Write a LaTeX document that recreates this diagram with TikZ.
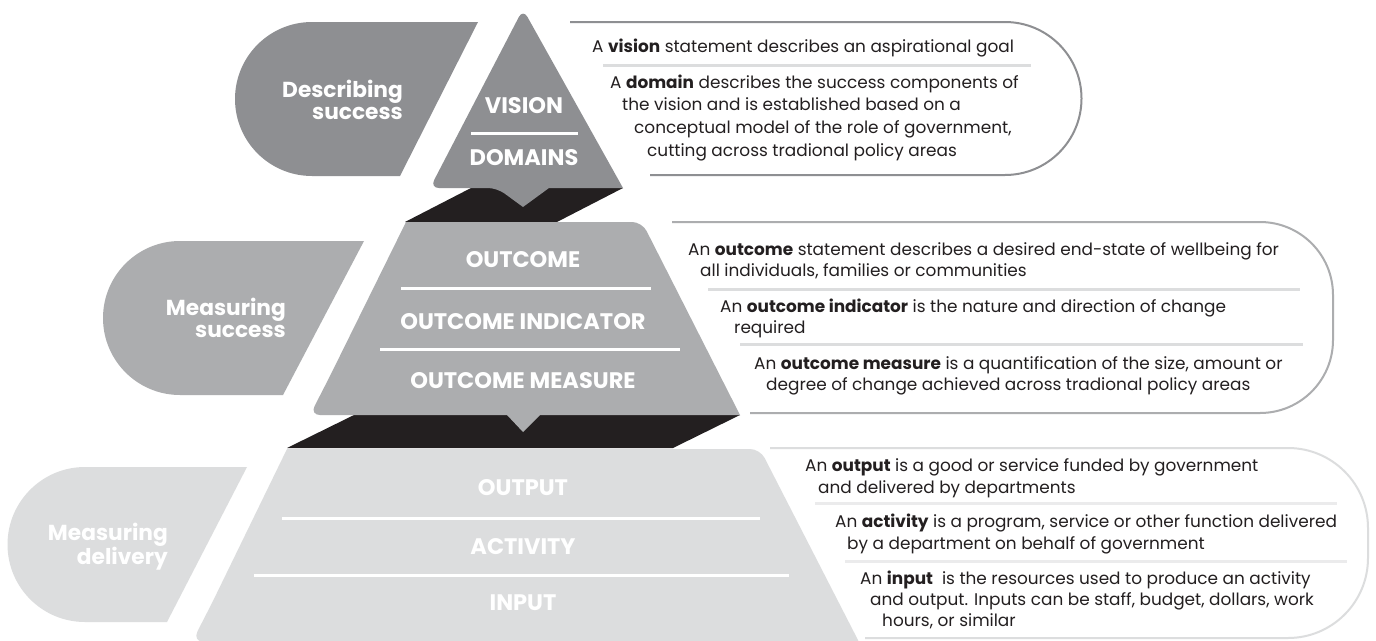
\documentclass[tikz,border=0pt]{standalone}
\usepackage{fontspec}
\setmainfont{Poppins}
\definecolor{tierdark}{HTML}{8E8F92}
\definecolor{tiermid}{HTML}{ACADAF}
\definecolor{tierlight}{HTML}{DCDDDE}
\definecolor{band}{HTML}{231F20}
\definecolor{ink}{HTML}{231F20}
\definecolor{sepfaint}{HTML}{EBEBEC}
\begin{document}
\begin{tikzpicture}[x=1pt,y=-1pt,
  tierlabel/.style={text=white, inner sep=0pt, font=\fontsize{22.5}{24}\selectfont\bfseries},
  tablabel/.style={text=white, inner sep=0pt, align=right, anchor=east, font=\fontsize{21.7}{22}\selectfont\bfseries},
  body/.style={text=ink, inner sep=0pt, anchor=base west, font=\fontsize{16.9}{19}\selectfont},
  whiterule/.style={white, line width=3pt},
  boxline/.style={line width=2pt},
  sepline/.style={line width=3pt}]
\useasboundingbox (0,0) rectangle (1376,640);
\fill[white] (0,0) rectangle (1376,640);

% ---- left tabs ----
\fill[tierdark] (312,176) arc[start angle=90,end angle=270,radius=77] -- (478,22) -- (400,176) -- cycle;
\fill[tiermid] (180,395) arc[start angle=90,end angle=270,radius=77] -- (364,241) -- (283,395) -- cycle;
\fill[tierlight] (85,622) arc[start angle=90,end angle=270,radius=77.5] -- (247,467) -- (167,622) -- cycle;

\node[tablabel] (tabdescribe) at (403,100) {Describing\\success};
\node[tablabel] (tabmeasure) at (286,318) {Measuring\\success};
\node[tablabel] (tabdelivery) at (168,547) {Measuring\\delivery};

% ---- dark bands under each tier ----
\fill[band] (405,222) -- (557,222) -- (623,188) -- (471,188) -- cycle;
\fill[band] (287,448) -- (673,448) -- (740,415) -- (354,415) -- cycle;

% ---- top tier ----
\fill[tierdark] (623,188) [rounded corners=9pt] -- (523,9) -- (430,188) -- (497,188) [sharp corners] -- (523,207) -- (549,188) -- cycle;
\node[tierlabel] (vision) at (524,106) {VISION};
\draw[whiterule] (471,133) -- (578,133);
\node[tierlabel] (domains) at (524,158) {DOMAINS};

% ---- middle tier ----
\fill[tiermid] (406,222) [rounded corners=10pt] -- (642,222) [sharp corners] -- (740,415) -- (540,415) -- (523,432) -- (507,415) [rounded corners=10pt] -- (310,415) -- (330,376) [sharp corners] -- cycle;
\node[tierlabel] (outcome) at (523,260) {OUTCOME};
\draw[whiterule] (401,288) -- (651,288);
\node[tierlabel] (indicator) at (523,322) {OUTCOME INDICATOR};
\draw[whiterule] (380,349) -- (680,349);
\node[tierlabel] (measure) at (523,381) {OUTCOME MEASURE};

% ---- bottom tier ----
\fill[tierlight] (287,449) [rounded corners=10pt] -- (760,449) [sharp corners] -- (859,642) -- (300,642) [rounded corners=12pt] -- (192,642) -- (212,603) [sharp corners] -- cycle;
\node[tierlabel] (output) at (523,488) {OUTPUT};
\draw[whiterule] (282,518) -- (760,518);
\node[tierlabel] (activity) at (523,547) {ACTIVITY};
\draw[whiterule] (254,575) -- (789,575);
\node[tierlabel] (input) at (523,603) {INPUT};

% ---- description panels ----
\draw[boxline, tierdark] (570,22) -- (1005,22) arc[start angle=-90,end angle=90,radius=76.5] -- (650,175);
\draw[sepline, tierlight] (603,65) -- (1031,65);
\node[body] (d1) at (592,52) {A \textbf{vision} statement describes an aspirational goal};
\node[body] (d2) at (610,88) {A \textbf{domain} describes the success components of};
\node[body] (d3) at (622,110) {the vision and is established based on a};
\node[body] (d4) at (634,133) {conceptual model of the role of government,};
\node[body] (d5) at (647,156) {cutting across tradional policy areas};

\draw[boxline, tiermid] (672,222) -- (1260,222) arc[start angle=-90,end angle=0,radius=73] -- (1333,340) arc[start angle=0,end angle=90,radius=73] -- (750,413);
\draw[sepline, tierlight] (708,289) -- (1300,289);
\draw[sepline, tierlight] (740,344) -- (1303,344);
\node[body] (m1) at (688,255) {An \textbf{outcome} statement describes a desired end-state of wellbeing for};
\node[body] (m2) at (700,276) {all individuals, families or communities};
\node[body] (m3) at (720,312) {An \textbf{outcome indicator} is the nature and direction of change};
\node[body] (m4) at (734,333) {required};
\node[body] (m5) at (754,369) {An \textbf{outcome measure} is a quantification of the size, amount or};
\node[body] (m6) at (766,390) {degree of change achieved across tradional policy areas};

\draw[boxline, tierlight] (770,448) -- (1288,448) arc[start angle=-90,end angle=0,radius=80] -- (1368,558) arc[start angle=0,end angle=90,radius=80] -- (865,638);
\draw[sepline, sepfaint] (815,503) -- (1337,503);
\draw[sepline, sepfaint] (845,561) -- (1347,561);
\node[body] (o1) at (805,471) {An \textbf{output} is a good or service funded by government};
\node[body] (o2) at (818,493) {and delivered by departments};
\node[body] (o3) at (835,527) {An \textbf{activity} is a program, service or other function delivered};
\node[body] (o4) at (847,549) {by a department on behalf of government};
\node[body] (o5) at (860,584) {An \textbf{input}\ \ is the resources used to produce an activity};
\node[body] (o6) at (870,605) {and output. Inputs can be staff, budget, dollars, work};
\node[body] (o7) at (882,626) {hours, or similar};
\end{tikzpicture}
\end{document}
